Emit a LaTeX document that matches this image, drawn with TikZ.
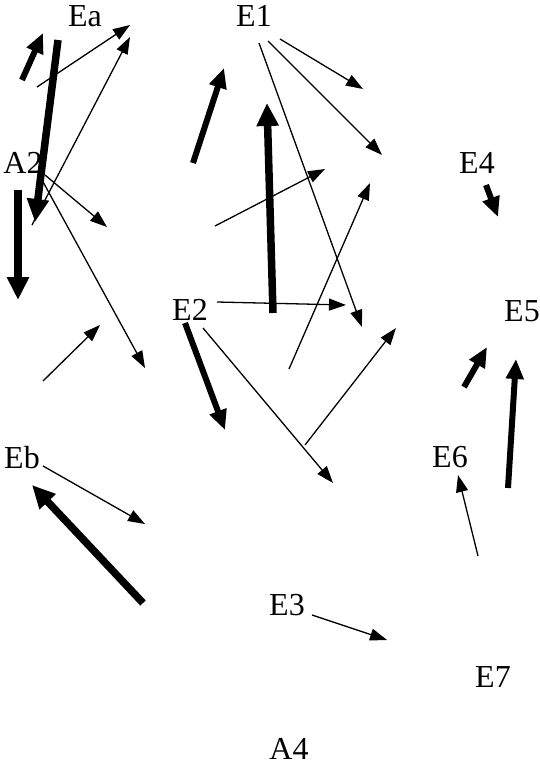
\documentclass[tikz,border=0pt]{standalone}
\usepackage{fontspec}
\setmainfont{Liberation Serif}
\usetikzlibrary{arrows.meta}
\begin{document}
\begin{tikzpicture}[x=1pt,y=-1pt,
  lbl/.style={inner sep=0pt,anchor=base,font=\fontsize{32}{38}\selectfont},
  thin/.style={line width=1.3pt,-{Triangle[length=17pt,width=12pt]}},
  thick/.style={line width=6pt,-{Triangle[length=20pt,width=17pt]}},
  vthick/.style={line width=7.5pt,-{Triangle[length=23pt,width=21pt]}}]
\useasboundingbox (0,0) rectangle (540,766);
% labels
\node[lbl] (Ea) at (85,26) {Ea};
\node[lbl] (E1) at (254,26) {E1};
\node[lbl] (A2) at (23,173) {A2};
\node[lbl] (E4) at (477,173) {E4};
\node[lbl] (E2) at (190,320) {E2};
\node[lbl] (E5) at (522,321) {E5};
\node[lbl] (Eb) at (22,468) {Eb};
\node[lbl] (E6) at (450,467) {E6};
\node[lbl] (E3) at (287,615) {E3};
\node[lbl] (E7) at (493,687) {E7};
\node[lbl] (A4) at (289,759) {A4};
% endpoints
\coordinate (p1a) at (22,80);   \coordinate (p1b) at (43,33);
\coordinate (p2a) at (58,40);   \coordinate (p2b) at (35,222);
\coordinate (p3a) at (37,87);   \coordinate (p3b) at (130,25);
\coordinate (p4a) at (32,225);  \coordinate (p4b) at (130,37);
\coordinate (p5a) at (45,175);  \coordinate (p5b) at (107,227);
\coordinate (p6a) at (42,180);  \coordinate (p6b) at (145,368);
\coordinate (p7a) at (18,190);  \coordinate (p7b) at (18,300);
\coordinate (p8a) at (43,381);  \coordinate (p8b) at (100,325);
\coordinate (p9a) at (193,163); \coordinate (p9b) at (224,68);
\coordinate (p10a) at (273,313); \coordinate (p10b) at (267,103);
\coordinate (p11a) at (259,43); \coordinate (p11b) at (362,327);
\coordinate (p12a) at (268,41); \coordinate (p12b) at (382,155);
\coordinate (p13a) at (280,39); \coordinate (p13b) at (363,89);
\coordinate (p14a) at (215,226); \coordinate (p14b) at (325,169);
\coordinate (p15a) at (289,369); \coordinate (p15b) at (370,183);
\coordinate (p16a) at (217,302); \coordinate (p16b) at (346,305);
\coordinate (p17a) at (185,323); \coordinate (p17b) at (225,430);
\coordinate (p18a) at (203,328); \coordinate (p18b) at (333,483);
\coordinate (p19a) at (305,445); \coordinate (p19b) at (396,328);
\coordinate (p20a) at (486,185); \coordinate (p20b) at (498,217);
\coordinate (p21a) at (464,387); \coordinate (p21b) at (487,347);
\coordinate (p22a) at (508,488); \coordinate (p22b) at (516,359);
\coordinate (p23a) at (478,556); \coordinate (p23b) at (458,475);
\coordinate (p24a) at (43,466); \coordinate (p24b) at (145,524);
\coordinate (p25a) at (143,603); \coordinate (p25b) at (32,485);
\coordinate (p26a) at (312,615); \coordinate (p26b) at (387,640);
% connectors
\draw[thick] (p1a) -- (p1b);
\draw[vthick] (p2a) -- (p2b);
\draw[thin] (p3a) -- (p3b);
\draw[thin] (p4a) -- (p4b);
\draw[thin] (p5a) -- (p5b);
\draw[thin] (p6a) -- (p6b);
\draw[vthick] (p7a) -- (p7b);
\draw[thin] (p8a) -- (p8b);
\draw[thick] (p9a) -- (p9b);
\draw[vthick] (p10a) -- (p10b);
\draw[thin] (p11a) -- (p11b);
\draw[thin] (p12a) -- (p12b);
\draw[thin] (p13a) -- (p13b);
\draw[thin] (p14a) -- (p14b);
\draw[thin] (p15a) -- (p15b);
\draw[thin] (p16a) -- (p16b);
\draw[thick] (p17a) -- (p17b);
\draw[thin] (p18a) -- (p18b);
\draw[thin] (p19a) -- (p19b);
\draw[thick] (p20a) -- (p20b);
\draw[thick] (p21a) -- (p21b);
\draw[thick] (p22a) -- (p22b);
\draw[thin] (p23a) -- (p23b);
\draw[thin] (p24a) -- (p24b);
\draw[vthick] (p25a) -- (p25b);
\draw[thin] (p26a) -- (p26b);
\end{tikzpicture}
\end{document}
